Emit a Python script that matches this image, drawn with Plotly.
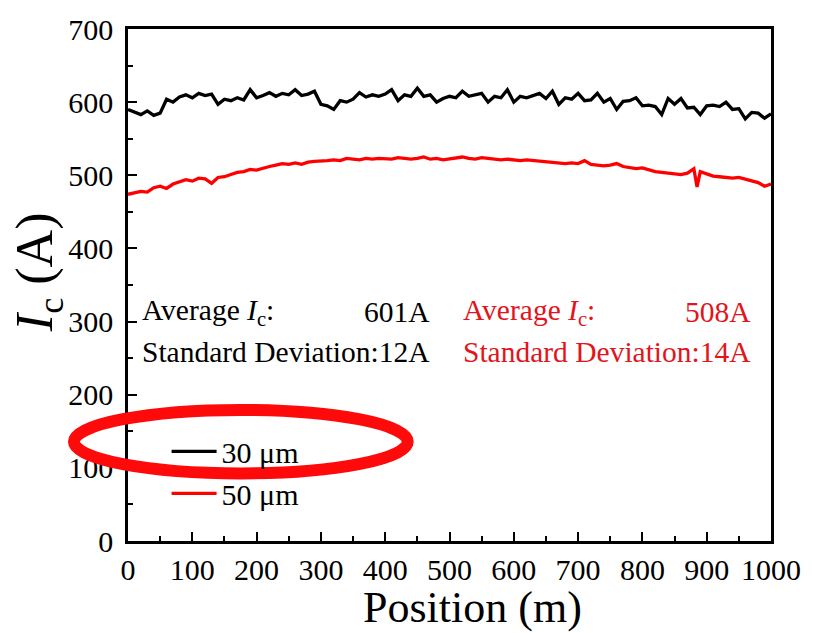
import plotly.graph_objects as go

# ---- data ----
pos_30 = list(range(0, 1001, 10))
ic_30 = [590, 586, 583, 588, 582, 585, 604, 600, 607, 610,
         606, 612, 609, 611, 597, 604, 602, 606, 603, 617,
         606, 609, 613, 608, 612, 610, 617, 609, 611, 615,
         597, 595, 590, 602, 600, 604, 613, 607, 610, 608,
         611, 617, 602, 610, 608, 619, 608, 610, 600, 605,
         608, 606, 615, 608, 610, 612, 600, 608, 606, 617,
         600, 608, 606, 609, 612, 605, 615, 597, 606, 604,
         612, 602, 603, 612, 600, 605, 590, 601, 602, 606,
         595, 596, 594, 583, 605, 597, 605, 592, 593, 583,
         595, 596, 594, 600, 590, 591, 577, 586, 585, 578,
         584]

pos_50 = list(range(0, 881, 10)) + [885] + list(range(890, 1001, 10))
ic_50 = [474, 476, 478, 477, 483, 485, 482, 488, 491, 494,
         492, 496, 495, 489, 497, 498, 501, 504, 505, 508,
         507, 510, 512, 514, 516, 515, 517, 515, 518, 519,
         519, 520, 521, 520, 523, 522, 521, 523, 522, 523,
         523, 522, 524, 523, 522, 523, 525, 522, 523, 521,
         522, 523, 525, 523, 522, 524, 523, 522, 521, 522,
         521, 520, 521, 520, 519, 519, 518, 517, 516, 517,
         516, 520, 515, 514, 513, 514, 516, 512, 511, 509,
         510, 507, 505, 504, 503, 502, 501, 503, 509,
         484,
         505, 502, 499, 498, 497, 496, 497, 495, 492, 490, 485, 488]

x_ticks = [0, 100, 200, 300, 400, 500, 600, 700, 800, 900, 1000]
y_ticks = [0, 100, 200, 300, 400, 500, 600, 700]

FONT = "Liberation Serif"
RED_LINE = "#ff0000"
RED_TEXT = "#e3141b"

fig = go.Figure()
fig.add_trace(go.Scatter(x=pos_30, y=ic_30, mode="lines", name="30 μm",
                         line=dict(color="black", width=3.3)))
fig.add_trace(go.Scatter(x=pos_50, y=ic_50, mode="lines", name="50 μm",
                         line=dict(color=RED_LINE, width=3.3)))

fig.update_layout(
    width=813, height=633,
    margin=dict(l=128, r=40, t=20, b=92),
    paper_bgcolor="white", plot_bgcolor="white",
    font=dict(family=FONT, color="black", size=30),
    showlegend=True,
    legend=dict(x=0.06, y=0.226, xanchor="left", yanchor="top",
                bgcolor="rgba(0,0,0,0)", font=dict(size=30, family=FONT),
                tracegroupgap=0, itemwidth=45),
)

fig.update_xaxes(
    range=[0, 1000], tickvals=x_ticks, ticktext=[str(v) for v in x_ticks],
    ticks="inside", ticklen=9, tickwidth=2, tickcolor="black",
    minor=dict(ticks="inside", ticklen=5, tickwidth=2, tickcolor="black", dtick=50),
    showline=True, linewidth=2.5, linecolor="black", mirror=True,
    showgrid=False, zeroline=False,
    tickfont=dict(size=30, family=FONT),
)
fig.update_yaxes(
    range=[0, 700], tickvals=y_ticks, ticktext=[str(v) for v in y_ticks],
    ticks="inside", ticklen=9, tickwidth=2, tickcolor="black",
    minor=dict(ticks="inside", ticklen=5, tickwidth=2, tickcolor="black", dtick=50),
    showline=True, linewidth=2.5, linecolor="black", mirror=True,
    showgrid=False, zeroline=False,
    tickfont=dict(size=30, family=FONT),
    ticklabelstandoff=6,
)

# axis titles placed as in the reference
fig.add_annotation(x=0.535, y=-0.129, xref="paper", yref="paper",
                   text="Position (m)", showarrow=False,
                   xanchor="center", yanchor="middle",
                   font=dict(size=44, family=FONT, color="black"))
fig.add_annotation(x=-0.14, y=0.525, xref="paper", yref="paper",
                   text="<i>I</i><sub>c</sub> (A)", showarrow=False, textangle=-90,
                   xanchor="center", yanchor="middle",
                   font=dict(size=52, family=FONT, color="black"))

ann_font = dict(family=FONT, size=29.5)
anns = [
    dict(x=18, y=313, text="Average <i>I</i><sub>c</sub>:", xanchor="left", color="black"),
    dict(x=473, y=313, text="601A", xanchor="right", color="black"),
    dict(x=18, y=258, text="Standard Deviation:12A", xanchor="left", color="black"),
    dict(x=518, y=313, text="Average <i>I</i><sub>c</sub>:", xanchor="left", color=RED_TEXT),
    dict(x=972, y=313, text="508A", xanchor="right", color=RED_TEXT),
    dict(x=518, y=258, text="Standard Deviation:14A", xanchor="left", color=RED_TEXT),
]
for a in anns:
    fig.add_annotation(x=a["x"], y=a["y"], xref="x", yref="y", text=a["text"],
                       xanchor=a["xanchor"], yanchor="middle", showarrow=False,
                       font=dict(color=a["color"], **ann_font))

# hand-drawn red highlight ellipse around the legend
fig.add_shape(type="circle", xref="paper", yref="paper",
              x0=-0.084, x1=0.435, y0=0.132, y1=0.256,
              line=dict(color="#ff0a0a", width=12), layer="above")

fig.write_html("out.html")
